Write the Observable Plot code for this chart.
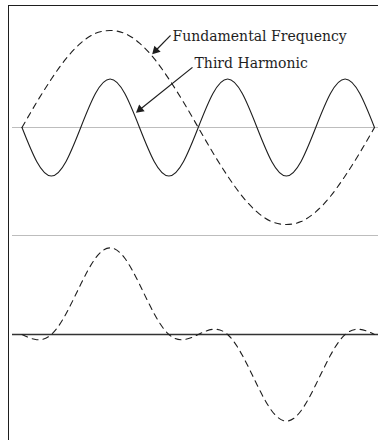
<!DOCTYPE html>
<html>
<head>
<meta charset="utf-8">
<script src="https://cdn.jsdelivr.net/npm/d3@7"></script>
<script src="https://cdn.jsdelivr.net/npm/@observablehq/plot@0.6"></script>
<style>
  html, body { margin: 0; padding: 0; background: #fff; }
  #wrap { position: relative; width: 378px; height: 440px; overflow: hidden; }
  #wrap svg { display: block; }
  #border { position: absolute; left: 8px; top: 5px; right: -4px; bottom: -4px;
            border-left: 1.6px solid #1e1e1e; border-top: 1.6px solid #1e1e1e; pointer-events: none; }
</style>
</head>
<body>
<div id="wrap"><div id="border"></div></div>
<script>
// Phase angle in degrees (one full period of the fundamental)
const degrees = [0,15,30,45,60,75,90,105,120,135,150,165,180,195,210,225,240,255,270,285,300,315,330,345,360];
// Fundamental frequency (dashed, top panel)
const fundamental = [0,0.26,0.5,0.71,0.87,0.97,1,0.97,0.87,0.71,0.5,0.26,0,-0.26,-0.5,-0.71,-0.87,-0.97,-1,-0.97,-0.87,-0.71,-0.5,-0.26,0];
// Third harmonic (solid, top panel)
const harmonic = [0,-0.35,-0.5,-0.35,0,0.35,0.5,0.35,0,-0.35,-0.5,-0.35,0,0.35,0.5,0.35,0,-0.35,-0.5,-0.35,0,0.35,0.5,0.35,0];
// Resulting combined wave (dashed, bottom panel)
const combined = [0,-0.09,0,0.36,0.87,1.32,1.5,1.32,0.87,0.36,0,-0.09,0,0.09,0,-0.36,-0.87,-1.32,-1.5,-1.32,-0.87,-0.36,0,0.09,0];

// Annotation labels and arrows (data coordinates of the top panel)
const labelText = ["Fundamental Frequency", "Third Harmonic"];
const labelX = [153.7, 176.2];
const labelY = [0.94, 0.66];
const arrowX1 = [151.7, 174.1];
const arrowY1 = [0.95, 0.62];
const arrowX2 = [134.3, 117.9];
const arrowY2 = [0.77, 0.165];

const ink = "#1e1e1e";
const font = "DejaVu Serif, serif";

const topData = degrees.map((d, i) => ({deg: d, fundamental: fundamental[i], harmonic: harmonic[i]}));
const bottomData = degrees.map((d, i) => ({deg: d, value: combined[i]}));
const labels = labelText.map((t, i) => ({text: t, x: labelX[i], y: labelY[i]}));

// pixels per data unit in the top panel (from the scale settings below)
const pxPerDeg = 352.5 / 360, pxPerUnit = 97;
const arrows = arrowX1.map((x1, i) => {
  const x2 = arrowX2[i], y2 = arrowY2[i], y1 = arrowY1[i];
  const dx = (x2 - x1) * pxPerDeg, dy = -(y2 - y1) * pxPerUnit;
  const len = Math.hypot(dx, dy), back = 3.2;
  return {
    x1, y1, x2, y2,
    hx: x2 - (dx / len) * back / pxPerDeg,
    hy: y2 + (dy / len) * back / pxPerUnit,
    angle: Math.atan2(dx, -dy) * 180 / Math.PI
  };
});

const W = 378;
const xScale = {domain: [0, 360], range: [21.5, 374]};

const topPlot = Plot.plot({
  width: W, height: 230,
  marginLeft: 12, marginRight: 0, marginTop: 0, marginBottom: 0,
  x: {...xScale, axis: null},
  y: {domain: [-1, 1], range: [224, 30], axis: null},
  style: {background: "transparent", overflow: "visible"},
  marks: [
    Plot.ruleY([0], {stroke: "#bdbdbd", strokeWidth: 1}),
    Plot.line(topData, {x: "deg", y: "fundamental", curve: "natural", stroke: ink, strokeWidth: 1.1, strokeDasharray: "6,5"}),
    Plot.line(topData, {x: "deg", y: "harmonic", curve: "natural", stroke: ink, strokeWidth: 1.1}),
    Plot.link(arrows, {x1: "x1", y1: "y1", x2: "hx", y2: "hy", stroke: ink, strokeWidth: 1.2}),
    Plot.dot(arrows, {x: "hx", y: "hy", symbol: "triangle2", r: 4.2, fill: ink, stroke: "none", rotate: "angle"}),
    Plot.text(labels, {x: "x", y: "y", text: "text", textAnchor: "start", fontFamily: font, fontSize: 14, fill: ink})
  ]
});

const bottomPlot = Plot.plot({
  width: W, height: 210,
  marginLeft: 12, marginRight: 0, marginTop: 5, marginBottom: 0,
  x: {...xScale, axis: null},
  y: {domain: [-1.5, 1.5], range: [190.6, 17.4], axis: null},
  style: {background: "transparent", overflow: "visible"},
  marks: [
    Plot.frame({anchor: "top", stroke: "#bdbdbd", strokeWidth: 1}),
    Plot.ruleY([0], {stroke: "#333", strokeWidth: 1.6}),
    Plot.line(bottomData, {x: "deg", y: "value", curve: "natural", stroke: ink, strokeWidth: 1.1, strokeDasharray: "6,5"})
  ]
});

const wrap = document.getElementById("wrap");
const borderEl = document.getElementById("border");
wrap.insertBefore(topPlot, borderEl);
wrap.insertBefore(bottomPlot, borderEl);
</script>
</body>
</html>
